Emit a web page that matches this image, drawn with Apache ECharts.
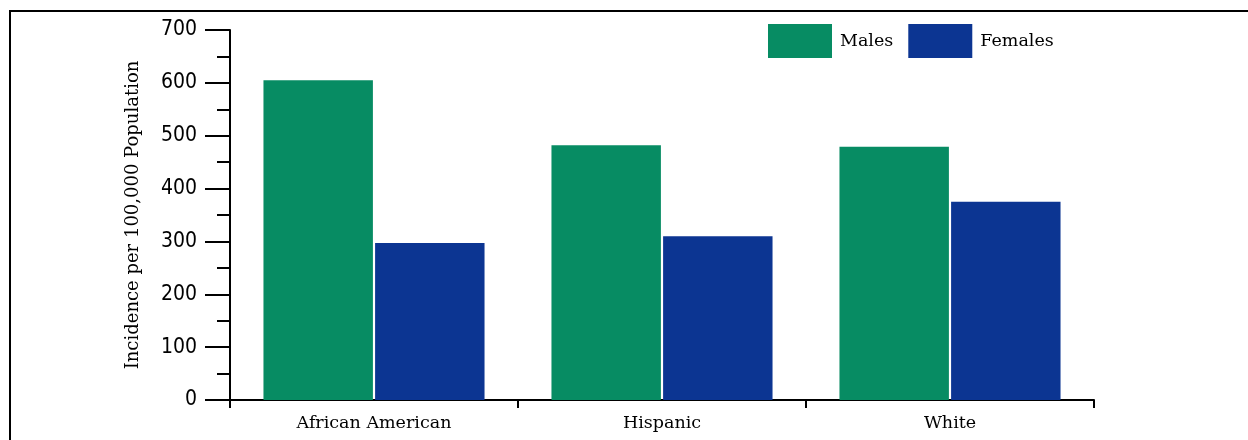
<!DOCTYPE html>
<html><head><meta charset="utf-8">
<script src="https://cdn.jsdelivr.net/npm/echarts@6/dist/echarts.min.js"></script>
<style>html,body{margin:0;padding:0;background:#fff}#c{width:1248px;height:440px}</style>
</head><body><div id="c"></div>
<script>
const categories = ['African American', 'Hispanic', 'White'];
const males = [605, 482, 479];
const females = [297, 310, 375];
const yTicks = [0, 100, 200, 300, 400, 500, 600, 700];

const serif = '"DejaVu Serif", serif';
const numFont = '"Liberation Sans Narrow", "DejaVu Sans Condensed", sans-serif';

const chart = echarts.init(document.getElementById('c'), null, {renderer: 'canvas'});
chart.setOption({
  animation: false,
  backgroundColor: '#fff',
  grid: {left: 230, right: 154, top: 30, bottom: 40, containLabel: false},
  legend: {
    left: 768, top: 24, padding: 0,
    itemWidth: 64, itemHeight: 34, itemGap: 15,
    icon: 'rect',
    textStyle: {fontFamily: serif, fontSize: 17.5, color: '#000', padding: [0, 0, 0, 3]},
    data: ['Males', 'Females']
  },
  graphic: [{
    type: 'polyline', silent: true,
    shape: {points: [[10, 440], [10, 11], [1248, 11]]},
    style: {stroke: '#000', lineWidth: 2, fill: null}
  }],
  xAxis: {
    type: 'category', data: categories,
    axisLine: {lineStyle: {color: '#000', width: 2}},
    axisTick: {show: true, length: 8, lineStyle: {color: '#000', width: 2}},
    axisLabel: {fontFamily: serif, fontSize: 17.5, color: '#000', margin: 14}
  },
  yAxis: {
    type: 'value', min: 0, max: 700, interval: 100,
    name: 'Incidence per 100,000 Population', nameLocation: 'middle', nameGap: 88,
    nameTextStyle: {fontFamily: serif, fontSize: 18, color: '#000'},
    axisLine: {show: true, lineStyle: {color: '#000', width: 2}},
    axisTick: {show: true, length: 25, lineStyle: {color: '#000', width: 2}},
    minorTick: {show: true, splitNumber: 2, length: 13, lineStyle: {color: '#000', width: 2}},
    splitLine: {show: false},
    axisLabel: {fontFamily: numFont, fontSize: 21, color: '#000', margin: 33,
      formatter: v => yTicks.includes(v) ? String(v) : ''}
  },
  series: [
    {name: 'Males', type: 'bar', data: males, barWidth: '38%', barGap: '2%',
     itemStyle: {color: '#078c63'}},
    {name: 'Females', type: 'bar', data: females, barWidth: '38%',
     itemStyle: {color: '#0c3592'}}
  ]
});
</script></body></html>
